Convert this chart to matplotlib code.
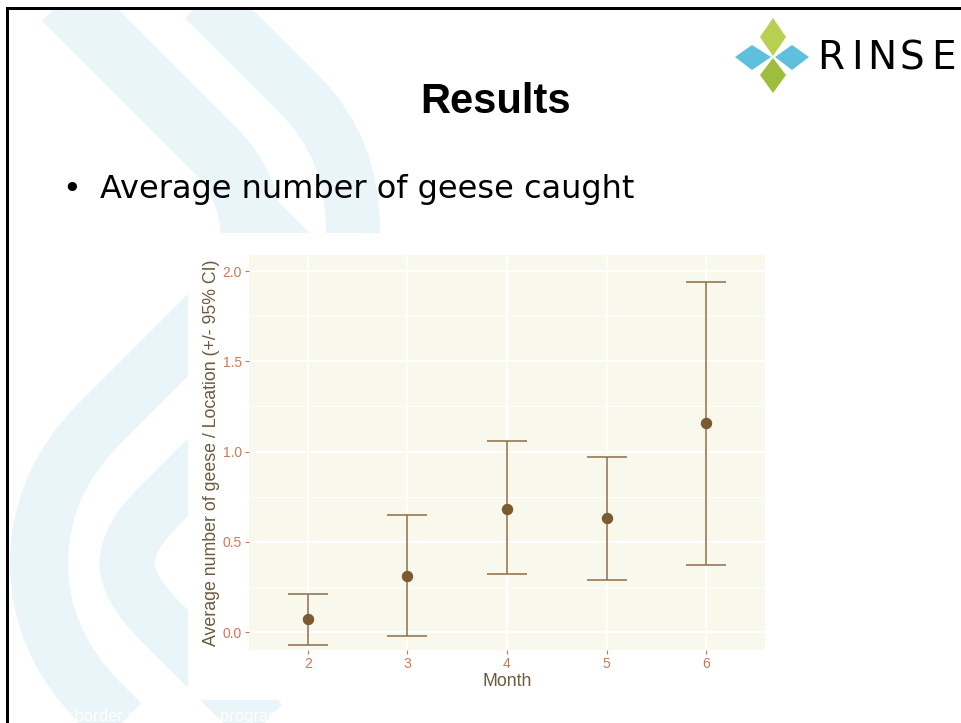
import numpy as np
import matplotlib
matplotlib.use('Agg')
import matplotlib.pyplot as plt
from matplotlib.path import Path
from matplotlib.patches import PathPatch, Rectangle, Polygon

## data
months = np.array([2, 3, 4, 5, 6])
means = np.array([0.07, 0.31, 0.68, 0.63, 1.16])
lower = np.array([-0.07, -0.02, 0.32, 0.29, 0.37])
upper = np.array([0.21, 0.65, 1.06, 0.97, 1.94])
yticks = [0.0, 0.5, 1.0, 1.5, 2.0]

W, H = 961, 723
fig = plt.figure(figsize=(W / 100, H / 100), dpi=100)
fig.patch.set_facecolor('white')

## slide background (pixel coords, y downwards)
bg = fig.add_axes([0, 0, 1, 1])
bg.set_xlim(0, W)
bg.set_ylim(H, 0)
bg.axis('off')
band = '#e9f5f8'
px = 0.72  # px -> pt at 100 dpi

def stroke(verts, codes, width):
    bg.add_patch(PathPatch(Path(verts, codes), fill=False, edgecolor=band,
                           lw=width * px, capstyle='butt', joinstyle='round'))

M, L, C = Path.MOVETO, Path.LINETO, Path.CURVE3
# two diagonal bands at the top
stroke([(45, -20), (215, 150), (252, 187), (252, 240), (252, 330)], [M, L, C, C, L], 62)
stroke([(185, -20), (300, 95), (353, 148), (353, 230), (353, 330)], [M, L, C, C, L], 54)
# two chevrons at the lower left
stroke([(300, 223), (100, 423), (39, 484), (39, 563), (39, 642), (100, 703), (300, 903)],
       [M, L, C, C, C, C, L], 58)
stroke([(300, 365), (160, 505), (127, 538), (127, 563), (127, 588), (160, 621), (300, 761)],
       [M, L, C, C, C, C, L], 55)

# white area of the pasted chart image
bg.add_patch(Rectangle((188, 233), 582, 467, facecolor='white', edgecolor='none'))
# outside the slide
bg.add_patch(Rectangle((0, 0), W, 8, facecolor='white', edgecolor='none'))
bg.add_patch(Rectangle((0, 0), 6, H, facecolor='white', edgecolor='none'))
bg.plot([7, 7, W], [H, 8, 8], color='black', lw=3 * px, solid_joinstyle='miter')

# logo
bg.add_patch(Polygon([(773, 18), (786, 37), (773, 56), (760, 37)], facecolor='#b9cf52', edgecolor='none'))
bg.add_patch(Polygon([(773, 58), (786, 75), (773, 93), (760, 75)], facecolor='#9dbd3c', edgecolor='none'))
bg.add_patch(Polygon([(735, 57), (752, 45), (771, 57), (752, 70)], facecolor='#5ec0dc', edgecolor='none'))
bg.add_patch(Polygon([(775, 57), (792, 45), (809, 57), (792, 70)], facecolor='#5ec0dc', edgecolor='none'))
for ch, xx in zip('RINSE', [817, 851, 867, 900, 931]):
    bg.text(xx, 69, ch, fontsize=28, family='DejaVu Sans', color='black',
            ha='left', va='baseline')

bg.text(496, 102, 'Results', fontsize=30, fontweight='bold', family='Liberation Sans',
        ha='center', va='center')
bg.text(72, 198, '\u2022', fontsize=23, family='DejaVu Sans', ha='center', va='baseline')
bg.text(100, 198, 'Average number of geese caught', fontsize=23, family='DejaVu Sans',
        ha='left', va='baseline')
bg.text(31, 721, 'Crossborder cooperation programme', fontsize=12, family='Liberation Sans',
        color='white', ha='left', va='baseline')

## the chart
ax = fig.add_axes([249 / W, 1 - 650 / H, (765 - 249) / W, (650 - 255) / H])
ax.set_facecolor('#f8f8ec')
for s in ax.spines.values():
    s.set_visible(False)
ax.set_xlim(1.41, 6.59)
ax.set_ylim(-0.0997, 2.089)
ax.set_xticks(months)
ax.set_yticks(yticks)
ax.set_yticks([0.25, 0.75, 1.25, 1.75], minor=True)
ax.set_yticklabels(['%.1f' % v for v in yticks])
ax.grid(which='major', color='white', lw=1.4)
ax.grid(which='minor', axis='y', color='white', lw=0.6)
ax.set_axisbelow(True)
tick_col = '#cc7858'
ax.tick_params(which='major', colors=tick_col, length=3, width=0.8, labelsize=10, pad=2)
ax.tick_params(which='minor', length=0)
for lab in ax.get_xticklabels() + ax.get_yticklabels():
    lab.set_family('Liberation Sans')

ax.errorbar(months, means, yerr=[means - lower, upper - means], fmt='o',
            color='#7a5a30', ecolor='#8d6e45', elinewidth=1.1, capsize=14.4,
            capthick=1.1, markersize=7.2, zorder=3)

lab_col = '#6e5a3c'
ax.set_xlabel('Month', fontsize=12.8, color=lab_col, family='Liberation Sans', va='center')
ax.xaxis.set_label_coords(0.5, (650 - 682) / 395)
ax.set_ylabel('Average number of geese / Location (+/- 95% CI)', fontsize=12.8,
              color=lab_col, family='Liberation Sans', va='center')
ax.yaxis.set_label_coords((212 - 249) / 516, 0.5)

plt.savefig('out.png', dpi=100)
